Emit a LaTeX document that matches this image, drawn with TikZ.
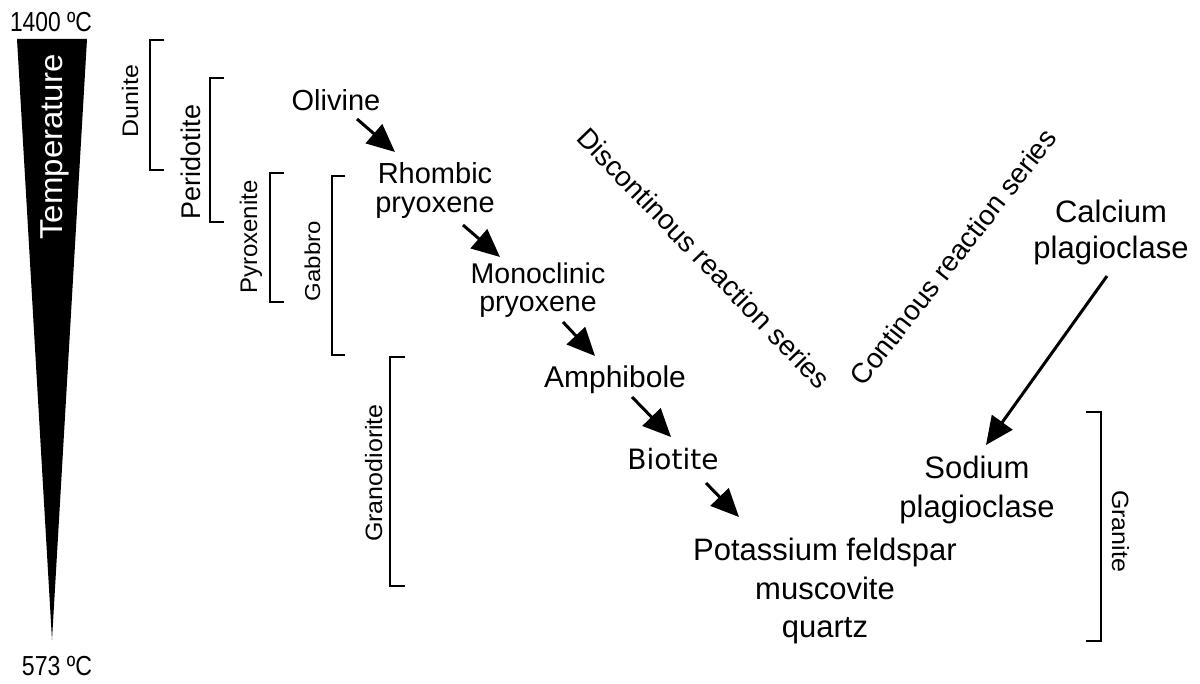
\documentclass[tikz,border=0pt]{standalone}
\usepackage{fontspec}
\setmainfont{Liberation Sans}
\newfontfamily\biofont{DejaVu Sans}
\usepackage{tikz}
\usetikzlibrary{arrows.meta,calc}
\tikzset{
  mineral/.style={inner sep=0pt,align=center},
  rocklabel/.style={inner sep=0pt,anchor=base},
  rockbracket/.style={line width=2.6pt},
  seriesarrow/.style={-{Triangle[length=28pt,width=25pt]},line width=3pt},
  serieslabel/.style={inner sep=0pt,font=\fontsize{28}{28}\selectfont}
}

\begin{document}
\begin{tikzpicture}[x=1pt,y=-1pt]
    \useasboundingbox (0,0) rectangle (1200,684);

    % temperature wedge
    \fill (17,39) -- (87,39) -- (52,640) -- cycle;
    \node[rocklabel,rotate=90,yscale=0.96,text=white,font=\fontsize{33}{33}\selectfont]
      (temp) at (62,147) {Temperature};
    \node[rocklabel,xscale=0.83,font=\fontsize{27.5}{27.5}\selectfont] (thigh) at (51,32) {1400 ºC};
    \node[rocklabel,xscale=0.84,font=\fontsize{27.5}{27.5}\selectfont] (tlow) at (57,675) {573 ºC};

    % rock brackets
    \draw[rockbracket] (164,40) -- (150,40) -- (150,170) -- (164,170);
    \draw[rockbracket] (224,78) -- (210,78) -- (210,222) -- (224,222);
    \draw[rockbracket] (284,173) -- (270,173) -- (270,302) -- (284,302);
    \draw[rockbracket] (345,176) -- (332,176) -- (332,355) -- (345,355);
    \draw[rockbracket] (405,357) -- (390,357) -- (390,586) -- (405,586);
    \draw[rockbracket] (1086,412) -- (1101,412) -- (1101,641) -- (1086,641);
    \node[rocklabel,rotate=90,yscale=0.9,font=\fontsize{25}{25}\selectfont] (dunite) at (138,101) {Dunite};
    \node[rocklabel,rotate=90,font=\fontsize{27}{27}\selectfont] (peridotite) at (200,162) {Peridotite};
    \node[rocklabel,rotate=90,font=\fontsize{24}{24}\selectfont] (pyroxenite) at (257,237) {Pyroxenite};
    \node[rocklabel,rotate=90,yscale=0.9,font=\fontsize{24}{24}\selectfont] (gabbro) at (320,261) {Gabbro};
    \node[rocklabel,rotate=90,yscale=0.945,font=\fontsize{25}{25}\selectfont] (granodiorite) at (382,473) {Granodiorite};
    \node[rocklabel,rotate=-90,yscale=0.94,font=\fontsize{25}{25}\selectfont] (granite) at (1112,531) {Granite};

    % discontinuous series
    \node[mineral,anchor=base,font=\fontsize{29}{29}\selectfont] (olivine) at (336,111) {Olivine};
    \node[mineral,anchor=north,font=\fontsize{29}{29}\selectfont] (rhombic) at (435,162)
      {Rhombic\\pryoxene};
    \node[mineral,anchor=north,font=\fontsize{28.5}{28}\selectfont] (mono) at (538,263)
      {Monoclinic\\pryoxene};
    \node[mineral,anchor=base,font=\fontsize{30}{30}\selectfont] (amph) at (615,388) {Amphibole};
    \node[mineral,anchor=base,font=\biofont\fontsize{28}{28}\selectfont] (biotite) at (673,470) {Biotite};
    \node[mineral,anchor=north,font=\fontsize{31}{38.5}\selectfont] (potassium) at (825,538)
      {Potassium feldspar\\muscovite\\quartz};

    % continuous series
    \node[mineral,anchor=north,font=\fontsize{31}{36}\selectfont] (calcium) at (1111,200)
      {Calcium\\plagioclase};
    \node[mineral,anchor=north,font=\fontsize{31}{39}\selectfont] (sodium) at (977,456)
      {Sodium\\plagioclase};

    \draw[seriesarrow] ($(olivine.base)+(21,8)$) -- ($(rhombic.north)+(-40,-10)$);
    \draw[seriesarrow] ($(rhombic.north)+(28,63)$) -- ($(mono.north)+(-38,-6)$);
    \draw[seriesarrow] ($(mono.north)+(25,59)$) -- ($(amph.base)+(-20,-32)$);
    \draw[seriesarrow] ($(amph.base)+(17,9)$) -- ($(biotite.base)+(-2,-33)$);
    \draw[seriesarrow] ($(biotite.base)+(33,13)$) -- ($(potassium.north)+(-86,-21)$);
    \draw[seriesarrow] ($(calcium.north)+(-4,76)$) -- ($(sodium.north)+(9,-11)$);

    \node[serieslabel,rotate=-46] (discont) at (704,258) {Discontinous reaction series};
    \node[serieslabel,rotate=52] (cont) at (953,257) {Continous reaction series};
  \end{tikzpicture}
\end{document}
